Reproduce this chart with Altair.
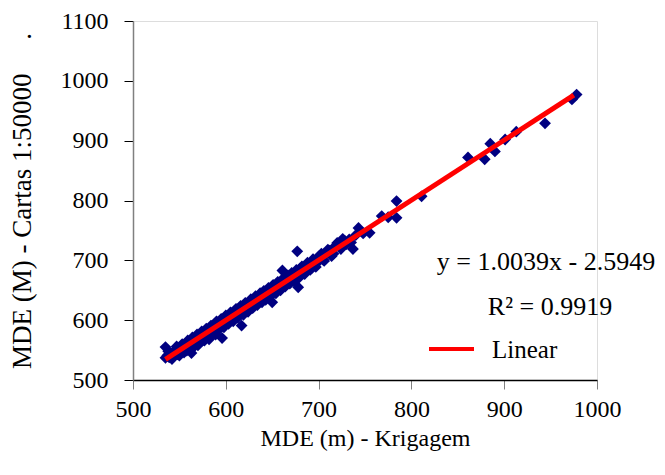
import altair as alt
import pandas as pd

# Scatter data (MDE Krigagem vs MDE Cartas 1:50000)
x_vals = [535, 535, 537, 539, 541, 543, 544, 546, 548, 549, 551, 552, 554, 556, 557, 558,
          560, 561, 563, 563, 565, 566, 567, 568, 569, 570, 571, 572, 573, 574, 575, 576,
          577, 578, 579, 580, 581, 582, 583, 584, 585, 586, 587, 588, 589, 590, 591, 592,
          593, 594, 595, 596, 597, 598, 599, 600, 601, 602, 603, 604, 605, 606, 607, 608,
          609, 610, 611, 612, 613, 614, 615, 616, 617, 618, 619, 620, 622, 623, 625, 626,
          628, 630, 631, 633, 635, 636, 638, 640, 642, 644, 645, 647, 650, 650, 652, 655,
          657, 660, 661, 663, 665, 668, 670, 672, 675, 677, 678, 680, 683, 686, 690, 693,
          695, 698, 699, 701, 705, 708, 712, 716, 720, 722, 726, 730, 733, 737, 740, 743,
          748, 755, 768, 775, 784, 784, 811, 861, 879, 885, 890, 901, 913, 944, 973, 978]
y_vals = [537, 555, 541, 538, 545, 546, 540, 548, 543, 551, 553, 547, 556, 551, 559, 549,
          562, 556, 545, 565, 560, 568, 562, 571, 566, 558, 573, 568, 576, 570, 566, 579,
          572, 581, 575, 583, 577, 568, 586, 580, 588, 582, 590, 584, 576, 593, 588, 595,
          589, 597, 591, 570, 600, 594, 602, 596, 605, 598, 607, 599, 609, 603, 612, 601,
          614, 606, 616, 605, 618, 610, 620, 612, 591, 622, 615, 625, 618, 628, 620, 631,
          624, 634, 627, 638, 630, 641, 633, 645, 637, 648, 640, 652, 630, 655, 648, 660,
          652, 665, 683, 658, 670, 663, 675, 668, 680, 715, 655, 686, 678, 691, 694, 688,
          700, 695, 703, 708, 701, 712, 716, 711, 729, 725, 736, 727, 735, 719, 742, 754,
          745, 746, 774, 772, 799, 771, 807, 872, 869, 895, 882, 902, 915, 929, 969, 977]

# Additional points of the dense band
x_more = [538, 542, 547, 550, 553, 555, 559, 562, 564, 566, 569, 571, 574, 577, 579, 582,
          584, 587, 590, 592, 595, 598, 600, 603, 605, 608, 611, 613, 616, 619, 621, 624,
          627, 629, 632, 634, 637, 639, 641, 643, 646, 648, 651, 654, 656, 659, 662, 664,
          667, 669, 671, 674, 676, 679, 682, 685, 688, 691, 694, 697, 703, 706, 710, 714,
          718, 724, 728, 735]
y_more = [548, 535, 556, 541, 560, 546, 566, 553, 571, 556, 576, 562, 581, 566, 586, 574,
          591, 579, 598, 583, 602, 588, 608, 594, 613, 598, 619, 604, 624, 609, 629, 614,
          635, 620, 640, 625, 645, 630, 649, 634, 654, 639, 659, 645, 664, 650, 670, 656,
          675, 661, 679, 665, 684, 671, 690, 677, 696, 684, 702, 689, 711, 699, 718, 707,
          724, 719, 733, 730]

# Linear trend line y = 1.0039x - 2.5949, endpoints
line_x = [535, 975]
line_y = [534.5, 976.2]

x_ticks = [500, 600, 700, 800, 900, 1000]
y_ticks = [500, 600, 700, 800, 900, 1000, 1100]

eq_text = "y = 1.0039x - 2.5949"
r2_text = "R\u00b2 = 0.9919"
legend_label = "Linear"
x_title = "MDE (m) - Krigagem"
y_title = "MDE (M) - Cartas 1:50000\u00a0\u00a0\u00a0\u00a0\u00a0."

FONT = "Liberation Serif"

pts = pd.DataFrame({"x": x_vals + x_more, "y": y_vals + y_more})
ln = pd.DataFrame({"x": line_x, "y": line_y})

xs = alt.Scale(domain=[500, 1000], nice=False, zero=False)
ys = alt.Scale(domain=[500, 1100], nice=False, zero=False)

x_axis = alt.Axis(values=x_ticks, format="d", title=x_title, grid=False, tickSize=9,
                  labelPadding=8, titlePadding=5, domainColor="#000000",
                  tickColor="#808080", labelFont=FONT, titleFont=FONT,
                  labelFontSize=24, titleFontSize=24, labelColor="#000000",
                  titleColor="#000000", titleFontWeight="normal", domainWidth=1.5,
                  labelFlush=False, labelOverlap=False)
y_axis = alt.Axis(values=y_ticks, format="d", title=y_title, grid=False, tickSize=9,
                  labelPadding=16, titlePadding=24, domainColor="#808080",
                  tickColor="#000000", labelFont=FONT, titleFont=FONT,
                  labelFontSize=24, titleFontSize=27, labelColor="#000000",
                  titleColor="#000000", titleFontWeight="normal", domainWidth=1.5,
                  labelFlush=False, labelOverlap=False)

scatter = alt.Chart(pts).mark_point(shape="diamond", filled=True, color="#000080",
                                    size=140, opacity=1).encode(
    x=alt.X("x:Q", scale=xs, axis=x_axis),
    y=alt.Y("y:Q", scale=ys, axis=y_axis),
)

trend = alt.Chart(ln).mark_line(color="#ff0000", strokeWidth=5).encode(
    x=alt.X("x:Q", scale=xs),
    y=alt.Y("y:Q", scale=ys),
)

eq = alt.Chart(pd.DataFrame({"t": [eq_text]})).mark_text(
    font=FONT, fontSize=26, color="#000000", align="center", baseline="middle"
).encode(x=alt.value(413), y=alt.value(241), text="t:N")
r2 = alt.Chart(pd.DataFrame({"t": [r2_text]})).mark_text(
    font=FONT, fontSize=26, color="#000000", align="center", baseline="middle"
).encode(x=alt.value(417), y=alt.value(286), text="t:N")
leg_line = alt.Chart(pd.DataFrame({"t": [legend_label]})).mark_rule(
    color="#ff0000", strokeWidth=4
).encode(x=alt.value(296), x2=alt.value(341), y=alt.value(328))
leg_text = alt.Chart(pd.DataFrame({"t": [legend_label]})).mark_text(
    font=FONT, fontSize=25, color="#000000", align="left", baseline="middle"
).encode(x=alt.value(359), y=alt.value(329), text="t:N")

chart = alt.layer(scatter, trend, eq, r2, leg_line, leg_text).properties(
    width=464, height=359,
    autosize=alt.AutoSizeParams(type="none"),
    padding={"left": 125, "top": 13, "right": 60, "bottom": 80},
).configure_view(stroke=None).configure(background="#ffffff")

chart.save("out.html", embed_options={"renderer": "svg", "actions": False})
